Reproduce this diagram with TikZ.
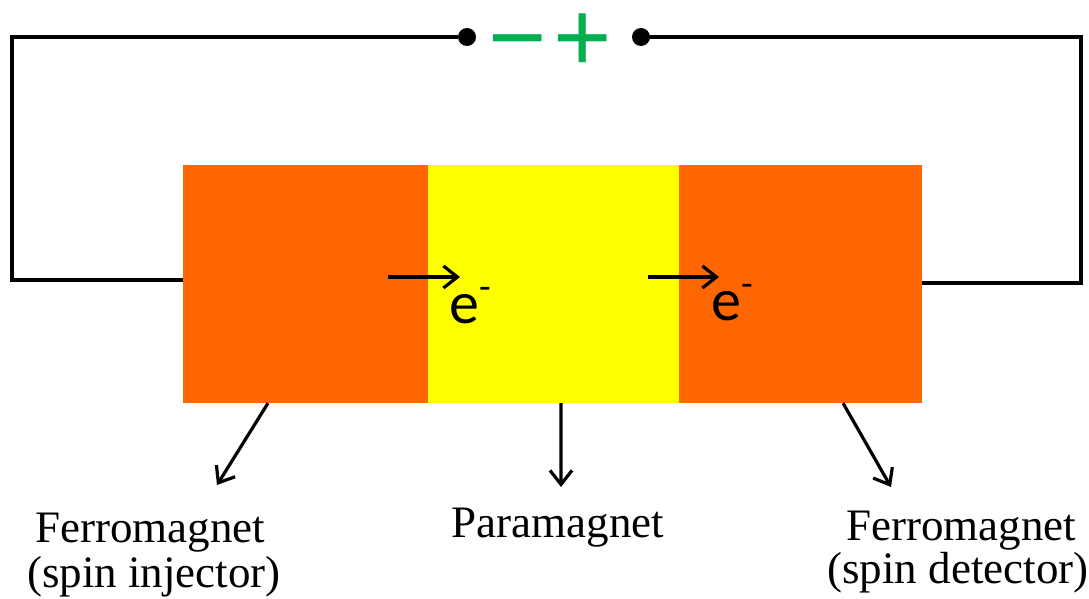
\documentclass[tikz,border=0pt]{standalone}
\usepackage{fontspec}
\setmainfont{Liberation Serif}
\newfontfamily\carlfont{Carlito}
\newfontfamily\symfont{Liberation Sans}
\usetikzlibrary{arrows.meta,calc}
\definecolor{fmorange}{HTML}{FF6600}
\definecolor{pmyellow}{HTML}{FFFF00}
\definecolor{signgreen}{HTML}{00B050}
\tikzset{
  block/.style={rectangle,inner sep=0pt,minimum height=238pt},
  wire/.style={line width=3.4pt,black},
  ptr/.style={line width=3.2pt,-{Straight Barb[length=14pt,width=22pt,line width=3.2pt]}},
  dot/.style={circle,fill=black,inner sep=0pt,minimum size=18pt},
  lbl/.style={font=\fontsize{45}{45}\selectfont,inner sep=0pt,anchor=base},
  elec/.style={font=\carlfont\fontsize{60}{60}\selectfont,inner sep=0pt,anchor=base},
  sign/.style={font=\symfont\fontsize{100}{100}\selectfont,text=signgreen,inner sep=0pt,anchor=base,text height=60pt,text depth=0pt}
}
\begin{document}
\begin{tikzpicture}[x=1pt,y=-1pt]
\useasboundingbox (0,0) rectangle (1089,599);
% blocks
\node[block,fill=fmorange,minimum width=245pt] (L) at (305.5,284) {};
\node[block,fill=pmyellow,minimum width=251pt] (M) at (553.5,284) {};
\node[block,fill=fmorange,minimum width=243pt] (R) at (800.5,284) {};
% terminals
\node[dot] (dL) at (467,37) {};
\node[dot] (dR) at (641,37) {};
\node[sign] (minus) at (518,72) {−};
\node[sign] (plus) at (583,72) {+};
% wires
\coordinate (lw) at (183,280);
\coordinate (rw) at (922,283);
\draw[wire] (lw) -- ++(-171,0) |- (dL);
\draw[wire] (rw) -- ++(159,0) |- (dR);
% electrons
\coordinate (a1s) at (388,277);
\coordinate (a1e) at (460,277);
\coordinate (a2s) at (648,277);
\coordinate (a2e) at (719,277);
\draw[ptr] (a1s) -- (a1e);
\draw[ptr] (a2s) -- (a2e);
\node[elec] (e1) at (470,323) {e\raisebox{24pt}{\fontsize{38}{38}\selectfont -}};
\node[elec] (e2) at (732,320) {e\raisebox{24pt}{\fontsize{38}{38}\selectfont -}};
% labels
\node[lbl] (t1a) at (150,542) {Ferromagnet};
\node[lbl] (t1b) at (154,587) {(spin injector)};
\node[lbl] (t2) at (558,537) {Paramagnet};
\node[lbl] (t3a) at (961,540) {Ferromagnet};
\node[lbl] (t3b) at (958,583) {(spin detector)};
% pointers
\coordinate (p1) at (217,485);
\coordinate (p2) at (561,487);
\coordinate (p3) at (891,487);
\draw[ptr] ($(L.south west)!0.347!(L.south east)$) -- (p1);
\draw[ptr] ($(M.south west)!0.53!(M.south east)$) -- (p2);
\draw[ptr] ($(R.south west)!0.675!(R.south east)$) -- (p3);
\end{tikzpicture}
\end{document}
